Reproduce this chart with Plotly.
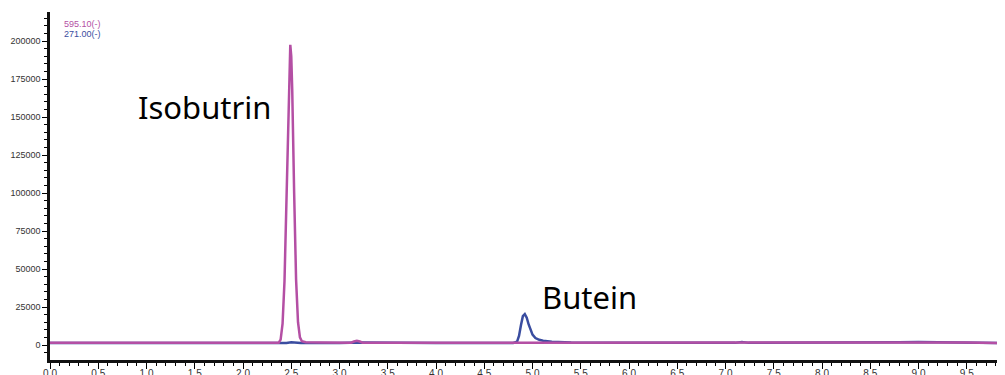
import plotly.graph_objects as go

# Retention time (min) and intensity for trace 595.10(-)
t_595 = [0.0, 1.0, 2.0, 2.37, 2.39, 2.41, 2.43, 2.45, 2.47, 2.48, 2.49, 2.50, 2.51, 2.53,
         2.55, 2.57, 2.59, 2.61, 2.65, 2.8, 3.12, 3.15, 3.18, 3.21, 3.24, 4.0, 5.0, 6.0,
         7.0, 8.0, 8.8, 9.1, 9.5, 9.9]
i_595 = [1500, 1500, 1500, 1500, 3500, 14000, 42000, 100000, 162000, 186000, 197500, 190000,
         168000, 100000, 43000, 15000, 5000, 2500, 1800, 1600, 1500, 2300, 2800, 2300, 1500,
         1500, 1500, 1500, 1500, 1500, 1600, 1800, 1700, 1200]

# Retention time (min) and intensity for trace 271.00(-)
t_271 = [0.0, 1.0, 2.0, 2.45, 2.5, 2.55, 2.6, 3.0, 3.15, 3.18, 3.21, 4.0, 4.8, 4.84, 4.86,
         4.88, 4.90, 4.92, 4.94, 4.96, 4.98, 5.00, 5.03, 5.07, 5.11, 5.2, 5.4, 6.0, 7.1,
         7.17, 7.24, 8.0, 8.8, 9.0, 9.2, 9.5, 9.9]
i_271 = [1300, 1300, 1300, 1300, 1800, 1600, 1300, 1300, 1800, 2000, 1700, 1300, 1300, 2200,
         6000, 13000, 19000, 20300, 18000, 13500, 9500, 6800, 4600, 3400, 2800, 2200, 1700,
         1400, 1400, 2000, 1400, 1400, 1800, 2000, 1800, 1500, 1300]

trace_names = ["595.10(-)", "271.00(-)"]
peak_labels = ["Isobutrin", "Butein"]
peak_label_pos = [(1.61, 156600), (5.59, 31600)]
unit_label = "min"
unit_label_pos = (9.80, -18000)

x_ticks = [i * 0.5 for i in range(20)]
x_ticktext = [f"{v:.1f}" for v in x_ticks]
y_ticks = [0, 25000, 50000, 75000, 100000, 125000, 150000, 175000, 200000]

C_MAG = "#B44FA4"
C_BLUE = "#3A4DA0"

fig = go.Figure()
fig.add_trace(go.Scatter(x=t_271, y=i_271, mode="lines", line=dict(color=C_BLUE, width=2.5),
                         name=trace_names[1], showlegend=False))
fig.add_trace(go.Scatter(x=t_595, y=i_595, mode="lines", line=dict(color=C_MAG, width=2.5),
                         name=trace_names[0], showlegend=False))
fig.add_trace(go.Scatter(x=[unit_label_pos[0]], y=[unit_label_pos[1]], mode="text",
                         text=[unit_label], textposition="middle right", cliponaxis=False,
                         textfont=dict(family="Liberation Sans", size=10, color="#333"),
                         hoverinfo="skip", showlegend=False))

for lbl, (x, y) in zip(peak_labels, peak_label_pos):
    fig.add_annotation(x=x, y=y, text=lbl, showarrow=False,
                       font=dict(family="Noto Sans", size=31, color="#000"))

fig.add_annotation(xref="paper", yref="paper", x=0.0126, y=0.9655, text=trace_names[0],
                   showarrow=False, xanchor="left", yanchor="middle",
                   font=dict(family="Liberation Sans", size=9, color=C_MAG))
fig.add_annotation(xref="paper", yref="paper", x=0.0126, y=0.937, text=trace_names[1],
                   showarrow=False, xanchor="left", yanchor="middle",
                   font=dict(family="Liberation Sans", size=9, color=C_BLUE))

fig.update_xaxes(range=[0, 9.896], tickmode="array", tickvals=x_ticks, ticktext=x_ticktext,
                 ticks="outside", ticklen=6, tickwidth=1, tickcolor="#000", automargin=False,
                 ticklabelstandoff=-4,
                 minor=dict(dtick=0.1, ticks="outside", ticklen=3, tickcolor="#000", showgrid=False),
                 showline=True, linewidth=2.5, linecolor="#111", showgrid=False, zeroline=False,
                 tickfont=dict(family="Liberation Sans", size=10, color="#333"))
fig.update_yaxes(range=[-9870, 219080], tickmode="array", tickvals=y_ticks,
                 ticktext=[str(v) for v in y_ticks], automargin=False,
                 ticks="outside", ticklen=5, tickwidth=1, tickcolor="#000",
                 minor=dict(dtick=5000, ticks="outside", ticklen=3, tickcolor="#000", showgrid=False),
                 showline=True, linewidth=2.5, linecolor="#111", showgrid=False, zeroline=False,
                 tickfont=dict(family="Liberation Sans", size=9, color="#333"))

fig.update_layout(width=997, height=367, margin=dict(l=42, r=0, t=4, b=15),
                  plot_bgcolor="white", paper_bgcolor="white")

fig.write_html("out.html")
